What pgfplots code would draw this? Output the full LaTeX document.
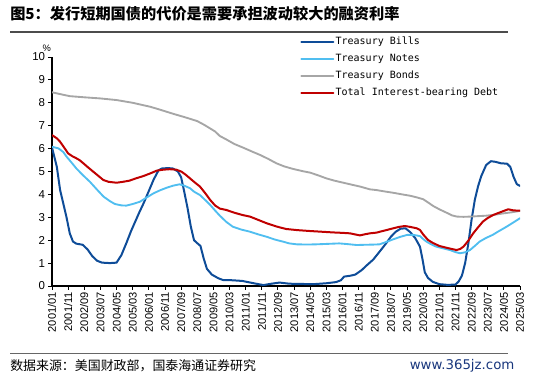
\documentclass[border=0pt]{standalone}
\usepackage{fontspec}
\setmainfont{Liberation Sans}
\newfontfamily\cjk{Noto Sans CJK SC}
\newfontfamily\legfont{DejaVu Sans Mono}
\newfontfamily\wwwfont{DejaVu Sans}
\usepackage{pgfplots}
\pgfplotsset{compat=1.18}
\definecolor{billc}{RGB}{14,76,152}
\definecolor{notec}{RGB}{80,190,240}
\definecolor{bondc}{RGB}{166,166,166}
\definecolor{debtc}{RGB}{192,0,0}
\definecolor{wwwc}{RGB}{25,55,125}
\begin{document}
\begin{tikzpicture}
\useasboundingbox (0pt,0pt) rectangle (412.5pt,-282.75pt);
\node[anchor=west, inner sep=0pt] at (7.5pt,-10pt) {\fontsize{11.4}{13}\selectfont\cjk\bfseries 图5：发行短期国债的代价是需要承担波动较大的融资利率};
\draw[black!70, line width=1.1pt] (7.5pt,-24pt) -- (381pt,-24pt);
\draw[black!60, line width=0.6pt] (7.5pt,-264.75pt) -- (381pt,-264.75pt);
\node[anchor=west, inner sep=0pt] at (7.5pt,-274.5pt) {\fontsize{9.7}{11}\selectfont\cjk 数据来源：美国财政部，国泰海通证券研究};
\node[anchor=east, inner sep=0pt] at (386pt,-274pt) {\fontsize{10}{12}\selectfont\wwwfont\color{wwwc} www.365jz.com};
\node[inner sep=0pt] at (35pt,-36pt) {\fontsize{7}{8}\selectfont \%};
\begin{axis}[
  at={(39pt,-214.5pt)}, anchor=south west,
  scale only axis, width=351pt, height=171.75pt,
  xmin=0, xmax=290, ymin=0, ymax=10,
  axis lines*=left,
  axis line style={black, line width=0.8pt},
  tick align=outside, major tick length=3pt,
  tick style={black, line width=0.7pt},
  xtick={0,10,...,290},
  xticklabels={2001/01,2001/11,2002/09,2003/07,2004/05,2005/03,2006/01,2006/11,2007/09,2008/07,2009/05,2010/03,2011/01,2011/11,2012/09,2013/07,2014/05,2015/03,2016/01,2016/11,2017/09,2018/07,2019/05,2020/03,2021/01,2021/11,2022/09,2023/07,2024/05,2025/03},
  xticklabel style={rotate=90, anchor=east, font=\fontsize{8.3}{9}\selectfont, inner sep=1.5pt},
  ytick={0,1,...,10},
  yticklabel style={font=\fontsize{8.6}{9}\selectfont, inner sep=2pt},
  /pgf/number format/assume math mode=true,
  legend style={at={(0.53,1.095)}, anchor=north west, draw=none, fill=none,
    font=\fontsize{7.5}{9}\legfont, inner sep=0pt, row sep=3.2pt,
    nodes={inner sep=1pt, text height=6pt, text depth=1.5pt}},
  legend cell align=left,
  legend image code/.code={\draw[#1] (0pt,0pt) -- (24pt,0pt);},
  every axis plot/.append style={line join=round, line cap=round},
]
\addplot[billc, line width=1.5pt] coordinates {
(0,6.05)(3,5.2)(5,4.2)(7,3.6)(9,3.0)(11,2.3)(13,1.94)(15,1.85)(19,1.8)(22,1.6)(25,1.3)(28,1.1)(31,1.02)(36,1.0)(40,1.02)(43,1.35)(46,1.86)(49,2.4)(51.5,2.8)(54,3.2)(57,3.65)(60,4.15)(63,4.65)(66,5.05)(68,5.13)(72,5.15)(75,5.13)(78,5.0)(80,4.75)(82,4.1)(84,3.4)(86,2.6)(88,2.0)(90,1.87)(92,1.75)(94,1.2)(96,0.75)(99,0.5)(103,0.34)(106,0.26)(112,0.25)(118,0.22)(125,0.12)(131,0.04)(136,0.1)(141,0.15)(147,0.1)(154,0.09)(162,0.08)(170,0.12)(176,0.17)(179,0.25)(181,0.41)(185,0.45)(188,0.5)(192,0.7)(195,0.9)(199,1.15)(203,1.5)(207,1.86)(210,2.15)(213,2.37)(216,2.5)(219,2.52)(222,2.35)(225,2.1)(228,1.72)(229.5,1.2)(231,0.6)(233,0.35)(236,0.18)(240,0.08)(245,0.05)(250,0.06)(252,0.2)(254,0.45)(256,1.0)(258,1.86)(260,2.9)(262,3.76)(264,4.35)(266,4.8)(269,5.28)(272,5.45)(275,5.42)(278,5.36)(282,5.34)(284,5.2)(286,4.77)(288,4.45)(290,4.37)
};
\addlegendentry{Treasury Bills}
\addplot[notec, line width=1.4pt] coordinates {
(0,6.08)(4,6.01)(7,5.85)(9,5.65)(12,5.4)(15,5.14)(19,4.85)(23.5,4.55)(28,4.2)(32,3.9)(36,3.7)(39,3.58)(43,3.52)(46,3.51)(50,3.58)(54.5,3.68)(59,3.88)(63,4.05)(67,4.18)(71,4.29)(75,4.38)(79,4.44)(82,4.38)(85.5,4.27)(88,4.12)(91.7,3.97)(95,3.75)(98,3.54)(101,3.3)(104,3.07)(108,2.8)(112,2.59)(117,2.47)(122.7,2.37)(128,2.25)(133,2.15)(138,2.03)(143,1.94)(147,1.86)(151.6,1.82)(158,1.81)(164,1.82)(171,1.84)(178,1.86)(183,1.83)(188.8,1.79)(194,1.8)(200,1.81)(203,1.82)(207,1.92)(211.5,2.04)(216,2.15)(220,2.23)(224,2.23)(228,2.18)(230,2.05)(232,1.94)(235,1.82)(238,1.72)(242,1.65)(246.6,1.57)(250,1.48)(252.8,1.43)(256,1.47)(259,1.57)(262,1.75)(265,1.94)(269,2.1)(273,2.23)(277,2.4)(281.7,2.59)(286,2.78)(290,2.96)
};
\addlegendentry{Treasury Notes}
\addplot[bondc, line width=1.4pt] coordinates {
(0,8.46)(5,8.38)(11,8.29)(20,8.24)(30,8.19)(40,8.12)(50,8.0)(55,7.92)(60.7,7.83)(66,7.72)(71,7.61)(76,7.5)(81.4,7.39)(86,7.29)(90,7.2)(94,7.05)(98,6.88)(101,6.75)(104,6.55)(108,6.4)(113,6.2)(118.5,6.04)(124,5.87)(129,5.72)(134,5.55)(139,5.36)(144,5.22)(149.5,5.11)(155,5.02)(160,4.95)(165,4.83)(170,4.7)(175,4.6)(180.5,4.51)(186,4.42)(191,4.34)(197,4.22)(201,4.19)(206,4.13)(211.5,4.07)(217,4.0)(222,3.94)(226,3.87)(230,3.79)(233,3.65)(236.3,3.49)(240,3.35)(244.5,3.2)(248,3.08)(251,3.03)(255,3.02)(259,3.03)(264,3.05)(269,3.07)(274,3.11)(279.6,3.17)(285,3.22)(290,3.28)
};
\addlegendentry{Treasury Bonds}
\addplot[debtc, line width=1.5pt] coordinates {
(0,6.59)(3,6.45)(5,6.3)(7,6.1)(10,5.79)(13,5.65)(15,5.58)(17,5.5)(19.4,5.36)(22,5.2)(25.6,4.99)(28,4.85)(31.8,4.63)(35,4.55)(40,4.51)(44,4.55)(48,4.6)(52,4.7)(56.6,4.8)(61,4.92)(65,5.04)(69,5.08)(73,5.1)(77,5.08)(80.3,4.99)(83,4.85)(85.5,4.7)(88,4.55)(91.7,4.34)(95,4.05)(98,3.76)(101,3.52)(104,3.38)(108,3.32)(113,3.2)(118,3.1)(122.7,3.03)(128,2.88)(133,2.74)(139,2.6)(145,2.49)(152,2.44)(160,2.4)(167,2.37)(174,2.34)(180,2.32)(184.6,2.3)(188,2.25)(190.8,2.21)(194,2.26)(197,2.3)(201,2.33)(206,2.42)(211.5,2.52)(215,2.58)(218.7,2.62)(222,2.58)(226,2.52)(228,2.45)(230,2.25)(233,2.01)(236,1.88)(240,1.75)(245,1.66)(250.7,1.57)(253,1.62)(255,1.72)(258,1.98)(261,2.3)(264,2.56)(267,2.81)(270,2.97)(273.4,3.1)(277,3.2)(280,3.28)(282.7,3.35)(286,3.3)(290,3.29)
};
\addlegendentry{Total Interest-bearing Debt}
\end{axis}
\end{tikzpicture}
\end{document}
